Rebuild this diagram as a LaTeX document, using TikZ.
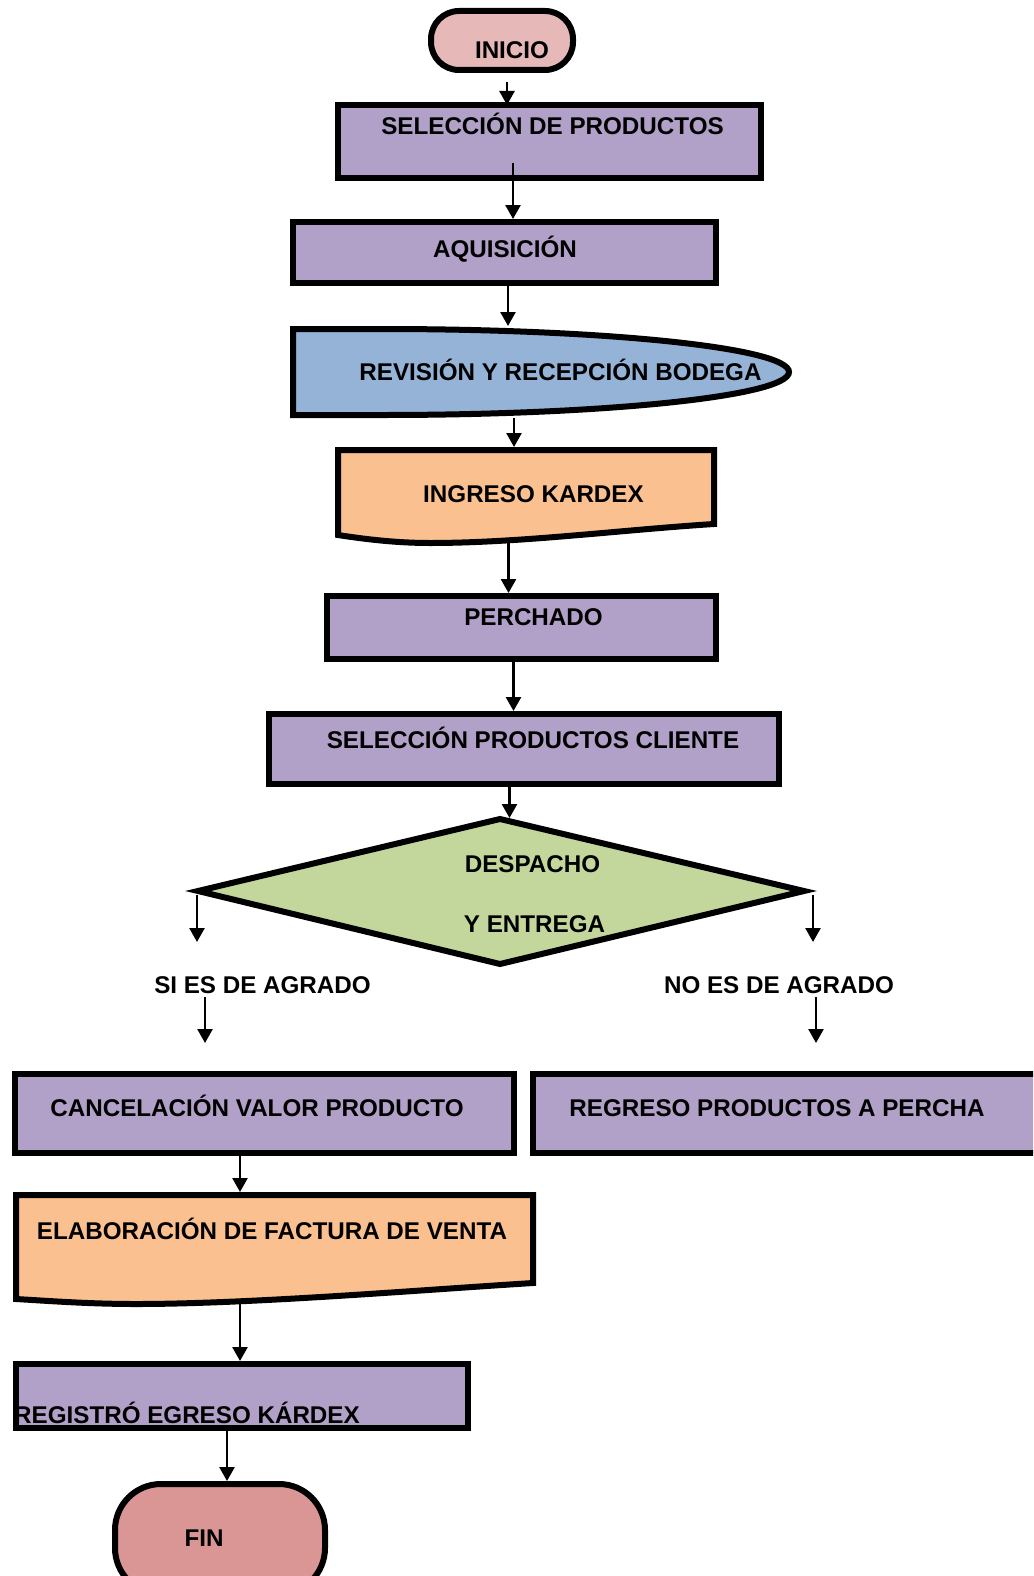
\documentclass[tikz,border=0pt]{standalone}
\usepackage{fontspec}
\setmainfont{Liberation Sans}
\usetikzlibrary{arrows.meta}
\definecolor{purp}{HTML}{B1A0C7}
\definecolor{bluefill}{HTML}{95B3D7}
\definecolor{orangefill}{HTML}{FAC090}
\definecolor{greenfill}{HTML}{C3D69B}
\definecolor{inifill}{HTML}{E6B8B7}
\definecolor{finfill}{HTML}{D99694}
\begin{document}
\begin{tikzpicture}[x=1pt,y=-1pt,
  box/.style={draw=black, line width=6pt, fill=purp, inner sep=0pt, anchor=north west},
  shp/.style={draw=black, line width=6pt},
  txt/.style={font=\fontsize{24.2}{28}\selectfont\bfseries, inner sep=0pt, text height=17.3pt, text depth=0pt},
  arr/.style={line width=2.6pt, -{Triangle[length=14pt,width=15pt]}}]
\useasboundingbox (0,0) rectangle (1033,1576);
\clip (0,0) rectangle (1033,1576);

% terminals and boxes
\node[draw=black, line width=6pt, fill=inifill, rounded corners=28pt, inner sep=0pt,
      minimum width=142pt, minimum height=59pt] (inicio) at (502,40.5) {};
\node[box, minimum width=423pt, minimum height=73pt] (sel) at (335,102) {};
\node[box, minimum width=423pt, minimum height=61pt] (aqui) at (290,219) {};

% revision (display shape)
\draw[shp, fill=bluefill] (293,329) -- (383,329)
  .. controls (607,329) and (789,348) .. (789,372)
  .. controls (789,396) and (607,415) .. (383,415)
  -- (293,415) -- cycle;
\coordinate (revN) at (508,326);
\coordinate (revS) at (514,418);

% ingreso kardex (document)
\draw[shp, fill=orangefill] (338,450) -- (714,450) -- (714,524)
  .. controls (620,530) and (520,543) .. (430,543)
  .. controls (400,543) and (370,540) .. (338,535) -- cycle;
\coordinate (ingN) at (514,447);
\coordinate (ingS) at (508.5,543);

\node[box, minimum width=389pt, minimum height=63pt] (perch) at (324,593) {};
\node[box, minimum width=510pt, minimum height=70pt] (spc) at (266,711) {};

% decision
\draw[shp, fill=greenfill] (500,819) -- (804,891) -- (500,964) -- (198,891) -- cycle;
\coordinate (dN) at (509.5,818);
\coordinate (dL) at (197,891);
\coordinate (dR) at (813,891);
\coordinate (siA) at (197,942);
\coordinate (noA) at (813,942);
\coordinate (siB) at (205,1043);
\coordinate (noB) at (816,1043);

\node[box, minimum width=499pt, minimum height=79pt] (canc) at (12,1071) {};
\node[box, minimum width=520pt, minimum height=79pt] (reg) at (530,1071) {};

% elaboracion (document)
\draw[shp, fill=orangefill] (16,1195) -- (533,1195) -- (533,1283)
  .. controls (420,1290) and (250,1304) .. (136,1304)
  .. controls (90,1304) and (50,1301) .. (16,1299) -- cycle;
\coordinate (elabN) at (240,1192);
\coordinate (elabS) at (240,1303);

\node[box, minimum width=452pt, minimum height=64pt] (regis) at (13,1361) {};
\node[draw=black, line width=6pt, fill=finfill, rounded corners=46pt, inner sep=0pt,
      minimum width=210pt, minimum height=110pt, anchor=north] (fin) at (220,1481) {};

% texts
\node[txt] (tinicio) at (512,50) {INICIO};
\node[txt] (tsel) at (552.5,126) {SELECCIÓN DE PRODUCTOS};
\node[txt] (taqui) at (505,248.5) {AQUISICIÓN};
\node[txt] (trev) at (560.5,371.5) {REVISIÓN Y RECEPCIÓN BODEGA};
\node[txt] (ting) at (533.5,494) {INGRESO KARDEX};
\node[txt] (tperch) at (533.5,616.5) {PERCHADO};
\node[txt] (tspc) at (533,740) {SELECCIÓN PRODUCTOS CLIENTE};
\node[txt] (tdesp) at (532.5,863.5) {DESPACHO};
\node[txt] (tentr) at (534.5,923.5) {Y ENTREGA};
\node[txt] (si) at (262.5,985) {SI ES DE AGRADO};
\node[txt] (no) at (779,985) {NO ES DE AGRADO};
\node[txt] (tcanc) at (257,1107.5) {CANCELACIÓN VALOR PRODUCTO};
\node[txt] (treg) at (777,1107.5) {REGRESO PRODUCTOS A PERCHA};
\node[txt] (telab) at (272,1230.5) {ELABORACIÓN DE FACTURA DE VENTA};
\node[txt, anchor=west] (tregis) at (14,1415) {REGISTRÓ EGRESO KÁRDEX};
\node[txt] (tfin) at (204,1538) {FIN};

% connectors
\draw[arr] ([xshift=5pt,yshift=-9pt]inicio.south) -- ([xshift=-42.5pt,yshift=-3pt]sel.north);
\draw[arr] ([xshift=-36.5pt,yshift=18pt]sel.south) -- ([xshift=8.5pt]aqui.north);
\draw[arr] ([xshift=3.5pt]aqui.south) -- (revN);
\draw[arr] (revS) -- (ingN);
\draw[arr] (ingS) -- ([xshift=-13pt]perch.north);
\draw[arr] ([xshift=-8pt]perch.south) -- ([xshift=-10.5pt]spc.north);
\draw[arr] ([xshift=-14.5pt]spc.south) -- (dN);
\draw[arr] ([yshift=-4pt]dL) -- (siA);
\draw[arr] ([yshift=-4pt]dR) -- (noA);
\draw[arr] ([xshift=-57.5pt,yshift=-3.5pt]si.south) -- (siB);
\draw[arr] ([xshift=37pt,yshift=-3.5pt]no.south) -- (noB);
\draw[arr] ([xshift=-24.5pt]canc.south) -- (elabN);
\draw[arr] (elabS) -- ([xshift=-2pt]regis.north);
\draw[arr] ([xshift=-15pt]regis.south) -- ([xshift=7pt]fin.north);
\end{tikzpicture}
\end{document}
